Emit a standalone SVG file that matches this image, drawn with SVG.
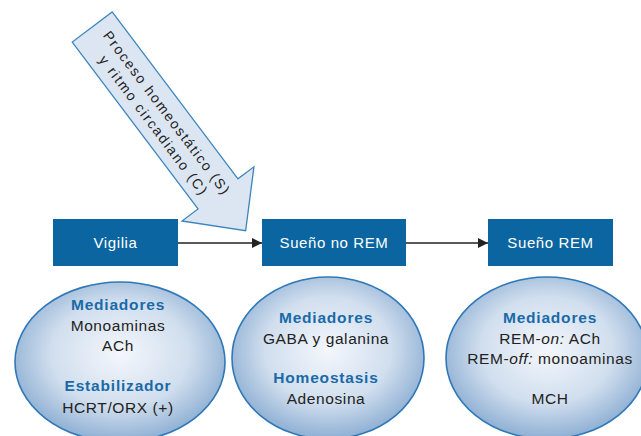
<svg xmlns="http://www.w3.org/2000/svg" width="641" height="436" viewBox="0 0 641 436">
<defs>
<radialGradient id="eg" cx="0.5" cy="0.45" r="0.55">
<stop offset="0" stop-color="#f4f7fc"/>
<stop offset="0.6" stop-color="#d0deee"/>
<stop offset="1" stop-color="#8eafd3"/>
</radialGradient>
<marker id="ah" markerWidth="10" markerHeight="10" refX="10" refY="5" orient="auto" markerUnits="userSpaceOnUse">
<path d="M0,0 L10,5 L0,10 Z" fill="#222"/>
</marker>
<style>
.box{fill:#0b65a1;}
.bl{font-family:"Liberation Sans",Arial,sans-serif;font-size:15px;fill:#fff;text-anchor:middle;letter-spacing:0.6px;}
.ell{fill:url(#eg);stroke:#2f78b8;stroke-width:1.6;}
.h{font-family:"Liberation Sans",Arial,sans-serif;font-size:15.5px;font-weight:bold;fill:#1a6aa8;text-anchor:middle;letter-spacing:0.8px;}
.t{font-family:"Liberation Sans",Arial,sans-serif;font-size:15.5px;fill:#222;text-anchor:middle;letter-spacing:0.6px;}
.con{stroke:#222;stroke-width:1.6;fill:none;}
.ar{font-family:"Liberation Sans",Arial,sans-serif;font-size:14px;fill:#222;}
</style>
</defs>
<g id="big-arrow">
<g transform="translate(92.2,27) rotate(53)">
<polygon points="0,-25 209,-25 209,-45 255,0 209,45 209,25 0,25" fill="#dce6f2" stroke="#3d86bd" stroke-width="1.3"/>
<text class="ar" x="13" y="-3" textLength="200" lengthAdjust="spacing">Proceso homeostático (S)</text>
<text class="ar" x="30" y="15" textLength="170" lengthAdjust="spacing">y ritmo circadiano (C)</text>
</g>
</g>
<g id="connectors">
<line class="con" x1="178" y1="243" x2="262" y2="243" marker-end="url(#ah)"/>
<line class="con" x1="406" y1="243" x2="488" y2="243" marker-end="url(#ah)"/>
</g>
<g id="vigilia">
<rect class="box" x="53" y="219" width="125" height="47"/>
<text class="bl" x="115.5" y="248">Vigilia</text>
</g>
<g id="sueno-no-rem">
<rect class="box" x="262" y="219" width="144" height="47"/>
<text class="bl" x="334" y="248">Sueño no REM</text>
</g>
<g id="sueno-rem">
<rect class="box" x="488" y="219" width="125" height="47"/>
<text class="bl" x="550.5" y="248">Sueño REM</text>
</g>
<g id="ell-vigilia">
<ellipse class="ell" cx="120" cy="362" rx="105" ry="80"/>
<text class="h" x="118" y="310">Mediadores</text>
<text class="t" x="118" y="331">Monoaminas</text>
<text class="t" x="118" y="351">ACh</text>
<text class="h" x="118" y="391">Estabilizador</text>
<text class="t" x="118" y="413">HCRT/ORX (+)</text>
</g>
<g id="ell-no-rem">
<ellipse class="ell" cx="328" cy="358" rx="96" ry="81"/>
<text class="h" x="326" y="323">Mediadores</text>
<text class="t" x="326" y="344">GABA y galanina</text>
<text class="h" x="326" y="383">Homeostasis</text>
<text class="t" x="326" y="404">Adenosina</text>
</g>
<g id="ell-rem">
<ellipse class="ell" cx="547" cy="358" rx="101" ry="81"/>
<text class="h" x="550" y="323">Mediadores</text>
<text class="t" x="550" y="344">REM-<tspan font-style="italic">on:</tspan> ACh</text>
<text class="t" x="550" y="364">REM-<tspan font-style="italic">off:</tspan> monoaminas</text>
<text class="t" x="550" y="404">MCH</text>
</g>
</svg>
